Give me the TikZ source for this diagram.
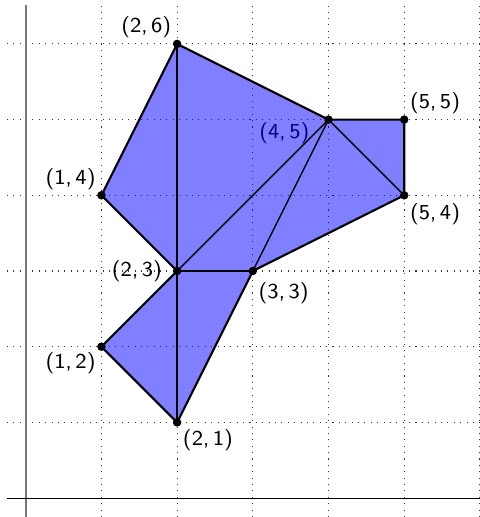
\documentclass[tikz,border=0pt]{standalone}
\usepackage{amsmath,amssymb}
\usepackage{tikz}
\usetikzlibrary{positioning, calc, backgrounds}
\usepackage{xcolor}
\definecolor{Fill}{HTML}{0000FF}
\definecolor{Black90}{HTML}{363636}
\definecolor{AxisGray}{HTML}{777777}

\begin{document}
\begin{tikzpicture}[
    every node/.style={font=\footnotesize\sffamily, inner sep=2pt},
    pt/.style={circle, fill=black, inner sep=0pt, minimum size=3.2pt},
    edge/.style={thick, line join=round},
    diag/.style={line width=0.5pt}
]
\useasboundingbox (-0.34,-0.25) rectangle (6.0,6.58);

% === GRID AND AXES ===
\draw[dotted, Black90] (-0.25,-0.25) grid (6.0,6.5);
\draw[line width=0.8pt, AxisGray] (0,-0.25) -- (0,6.52);
\draw[line width=0.4pt, black] (-0.25,0) -- (6.0,0);

% Vertices
\coordinate (p26) at (2,6);
\coordinate (p45) at (4,5);
\coordinate (p55) at (5,5);
\coordinate (p54) at (5,4);
\coordinate (p33) at (3,3);
\coordinate (p21) at (2,1);
\coordinate (p12) at (1,2);
\coordinate (p23) at (2,3);
\coordinate (p14) at (1,4);

% Labels (the fill is laid over them)
\node[above left] (l26) at (p26) {(2,\,6)};
\node[below left, xshift=-5pt, yshift=1pt] (l45) at (p45) {(4,\,5)};
\node[above right] (l55) at (p55) {(5,\,5)};
\node[above left] (l14) at (p14) {(1,\,4)};
\node[below right, yshift=-1pt] (l54) at (p54) {(5,\,4)};
\node[left=3.5pt] (l23) at (p23) {(2,\,3)};
\node[below right, yshift=-2pt] (l33) at (p33) {(3,\,3)};
\node[below left] (l12) at (p12) {(1,\,2)};
\node[below right, yshift=-0.5pt] (l21) at (p21) {(2,\,1)};

% === POLYGON ===
\fill[Fill, fill opacity=0.5]
    (p26) -- (p45) -- (p55) -- (p54) -- (p33) -- (p21) --
    (p12) -- (p23) -- (p14) -- cycle;

% Inner triangulation
\draw[diag] (p26) -- (p21);
\draw[diag] (p23) -- (p45);
\draw[diag] (p33) -- (p45);
\draw[diag] (p45) -- (p54);
\draw[diag] (p23) -- (p33);

% Boundary
\draw[edge]
    (p26) -- (p45) -- (p55) -- (p54) -- (p33) -- (p21) --
    (p12) -- (p23) -- (p14) -- cycle;

% Points
\foreach \p in {p26,p45,p55,p54,p33,p21,p12,p23,p14}
    \node[pt] at (\p) {};

\end{tikzpicture}
\end{document}
